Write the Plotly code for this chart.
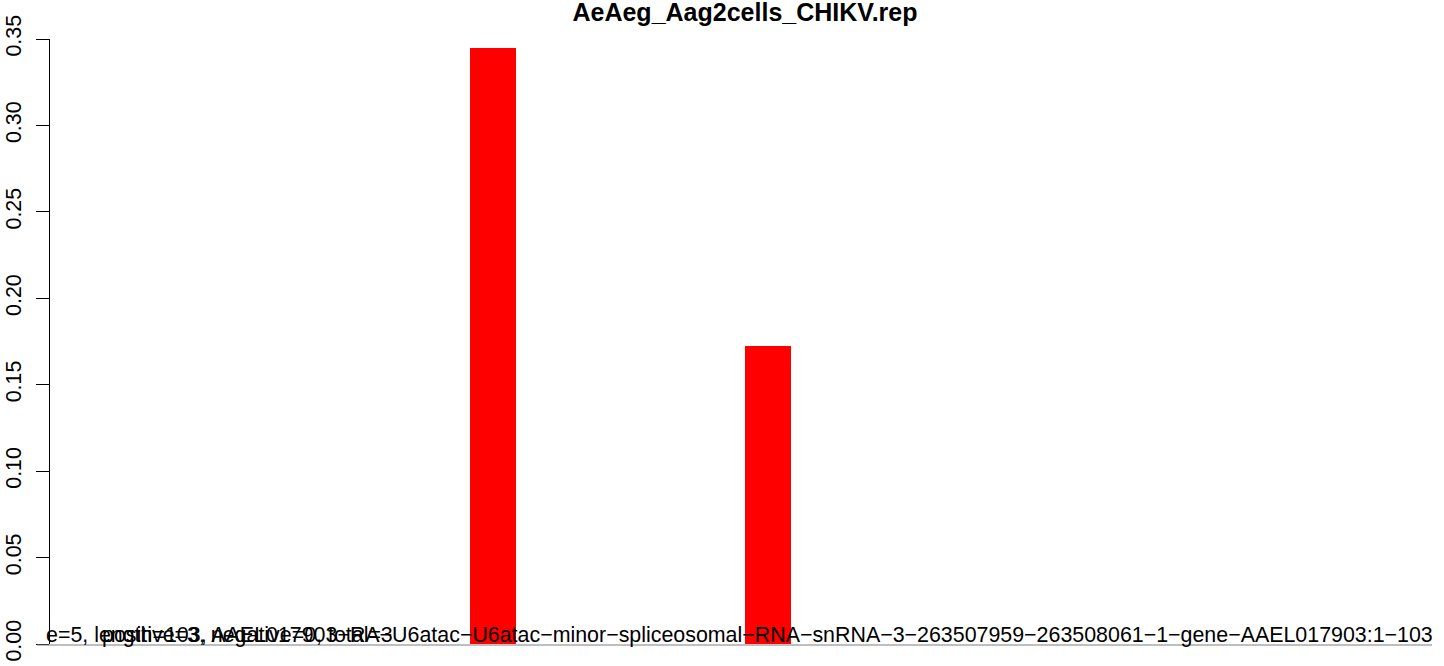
import plotly.graph_objects as go

# ---- data ----
bar_positions = [1, 2]
bar_values = [0.3448, 0.1724]
y_ticks = [0.00, 0.05, 0.10, 0.15, 0.20, 0.25, 0.30, 0.35]
y_tick_labels = ["0.00", "0.05", "0.10", "0.15", "0.20", "0.25", "0.30", "0.35"]
title_text = "AeAeg_Aag2cells_CHIKV.rep"
label_main = ("e=5, length=103, AAEL017903−RA−U6atac−U6atac−minor−spliceosomal−RNA−"
              "snRNA−3−263507959−263508061−1−gene−AAEL017903:1−103")
label_counts = "positive=3, negative=0, total=3"

W, H = 1444, 666
L, R, T, B = 50, 12, 39, 22
PW = W - L - R
PH = H - T - B

def px_x(p):
    return (p - L) / PW

def px_y(p):
    return (H - B - p) / PH

FONT = "Liberation Sans, Arial, sans-serif"
FS = 21.4

fig = go.Figure()
fig.add_trace(go.Bar(
    x=bar_positions, y=bar_values, width=0.1673,
    marker=dict(color="#FF0000", line=dict(width=0)),
    hoverinfo="y", showlegend=False,
))

fig.update_layout(
    width=W, height=H,
    margin=dict(l=L, r=R, t=T, b=B, pad=0, autoexpand=False),
    paper_bgcolor="white", plot_bgcolor="white",
    font=dict(family=FONT, size=FS, color="black"),
    title=dict(text="<b>" + title_text + "</b>", x=745 / W, xanchor="center",
               y=1 - 12.5 / H, yanchor="middle", yref="container",
               font=dict(family=FONT, size=25, color="black")),
    xaxis=dict(range=[-0.6109, 4.4145], visible=False, fixedrange=True, automargin=False),
    yaxis=dict(range=[0, 0.35], tickvals=y_ticks, ticktext=y_tick_labels,
               tickangle=-90, ticks="outside", ticklen=13, tickwidth=1,
               tickcolor="black", showline=True, linecolor="black", linewidth=1,
               showgrid=False, zeroline=False, ticklabelstandoff=6, automargin=False,
               tickfont=dict(family=FONT, size=FS, color="black")),
    bargap=0,
)

# grey baseline under the labels
fig.add_shape(type="line", xref="paper", yref="paper",
              x0=px_x(37), x1=px_x(1432), y0=px_y(645), y1=px_y(645),
              line=dict(color="#7f7f7f", width=1))

base_y = px_y(648)
fig.add_annotation(text=label_main, xref="paper", yref="paper",
                   x=px_x(739.5), y=base_y, xanchor="center", yanchor="bottom",
                   showarrow=False, borderpad=0,
                   font=dict(family=FONT, size=FS, color="black"))
fig.add_annotation(text=label_counts, xref="paper", yref="paper",
                   x=px_x(101), y=base_y, xanchor="left", yanchor="bottom",
                   showarrow=False, borderpad=0,
                   font=dict(family=FONT, size=FS, color="black"))

fig.write_html("out.html", config={"displayModeBar": False},
               post_script="document.body.style.margin='0';document.body.style.overflow='hidden';")
